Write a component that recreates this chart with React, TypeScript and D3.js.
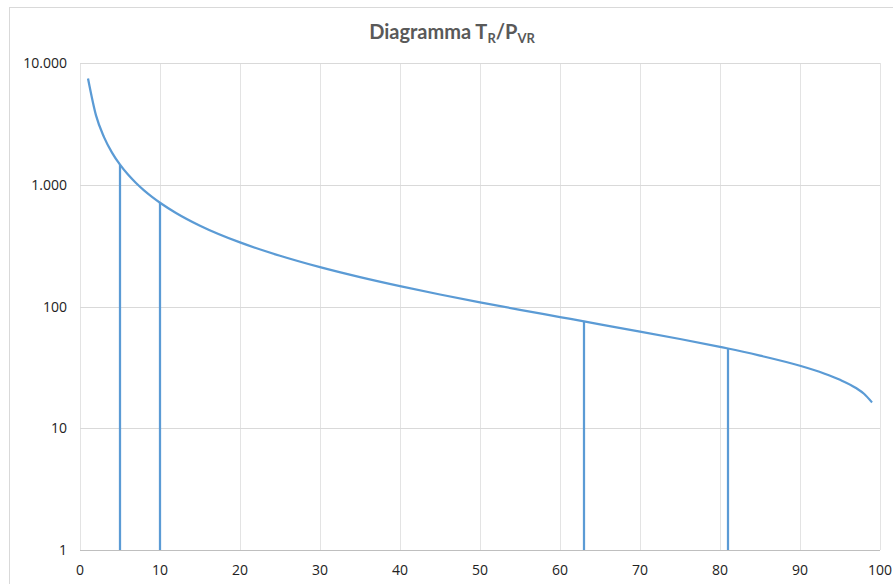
import React, { useEffect } from "react";
import * as d3 from "d3";

// probability of exceedance P_VR (%) and return period T_R (years)
const pvr = [1, 2, 3, 4, 5, 6, 7, 8, 9, 10, 12, 15, 20, 25, 30, 35, 40, 45, 50, 55, 60, 63, 65, 70, 75, 80, 81, 85, 90, 93, 95, 97, 98, 99];
const tr = [7462, 3712, 2462, 1837, 1462, 1212, 1033, 899, 795, 712, 587, 461, 336, 261, 210.3, 174.1, 146.8, 125.5, 108.2, 93.9, 81.9, 75.4, 71.4, 62.3, 54.1, 46.6, 45.2, 39.5, 32.6, 28.2, 25.0, 21.4, 19.2, 16.3];

// vertical drop lines
const markerP = [5, 10, 63, 81];
const markerT = [1462, 712, 75.4, 45.2];

const xTicks = [0, 10, 20, 30, 40, 50, 60, 70, 80, 90, 100];
const yTicks = [1, 10, 100, 1000, 10000];
const yTickLabels = ["1", "10", "100", "1.000", "10.000"];

const W = 893;
const H = 584;
const left = 80;
const right = 880;
const top = 63;
const bottom = 550;
const blue = "#5b9bd5";

export default function App() {
  useEffect(() => {
    document.body.style.margin = "0";
  }, []);

  const x = d3.scaleLinear().domain([0, 100]).range([left, right]);
  const y = d3.scaleLog().domain([1, 10000]).range([bottom, top]);

  const line = d3
    .line<number>()
    .x((_, i) => x(pvr[i]))
    .y((d) => y(d))
    .curve(d3.curveMonotoneX);

  return (
    <svg width={W} height={H} style={{ display: "block", background: "#fff" }}>
      <rect x={9.5} y={7.5} width={920} height={620} fill="#fff" stroke="#d9d9d9" />

      <text
        x={452}
        y={39}
        textAnchor="middle"
        fontFamily="Lato, 'Open Sans', sans-serif"
        fontWeight="bold"
        fontSize={20}
        fill="#595959"
      >
        Diagramma T
        <tspan fontSize={13} dy={4}>R</tspan>
        <tspan dy={-4}>/P</tspan>
        <tspan fontSize={13} dy={4}>VR</tspan>
      </text>

      {/* gridlines */}
      {xTicks.map((t) => (
        <line key={"gx" + t} x1={x(t) + 0.5} x2={x(t) + 0.5} y1={top} y2={bottom} stroke="#e3e3e3" />
      ))}
      {yTicks.map((t) => (
        <line key={"gy" + t} x1={left} x2={right} y1={Math.round(y(t)) + 0.5} y2={Math.round(y(t)) + 0.5} stroke="#d9d9d9" />
      ))}
      <line x1={left} x2={right} y1={bottom + 0.5} y2={bottom + 0.5} stroke="#bfbfbf" />

      {/* tick labels */}
      {yTicks.map((t, i) => (
        <text
          key={"ly" + t}
          x={67}
          y={y(t) + 5}
          textAnchor="end"
          fontFamily="'Open Sans', sans-serif"
          fontSize={14}
          fill="#222"
        >
          {yTickLabels[i]}
        </text>
      ))}
      {xTicks.map((t) => (
        <text
          key={"lx" + t}
          x={x(t)}
          y={575}
          textAnchor="middle"
          fontFamily="'Open Sans', sans-serif"
          fontSize={14}
          fill="#222"
        >
          {t}
        </text>
      ))}

      {/* drop lines */}
      {markerP.map((p, i) => (
        <line key={"m" + p} x1={x(p)} x2={x(p)} y1={bottom} y2={y(markerT[i])} stroke={blue} strokeWidth={2.25} />
      ))}

      <path d={line(tr) || ""} fill="none" stroke={blue} strokeWidth={2.25} />
    </svg>
  );
}
